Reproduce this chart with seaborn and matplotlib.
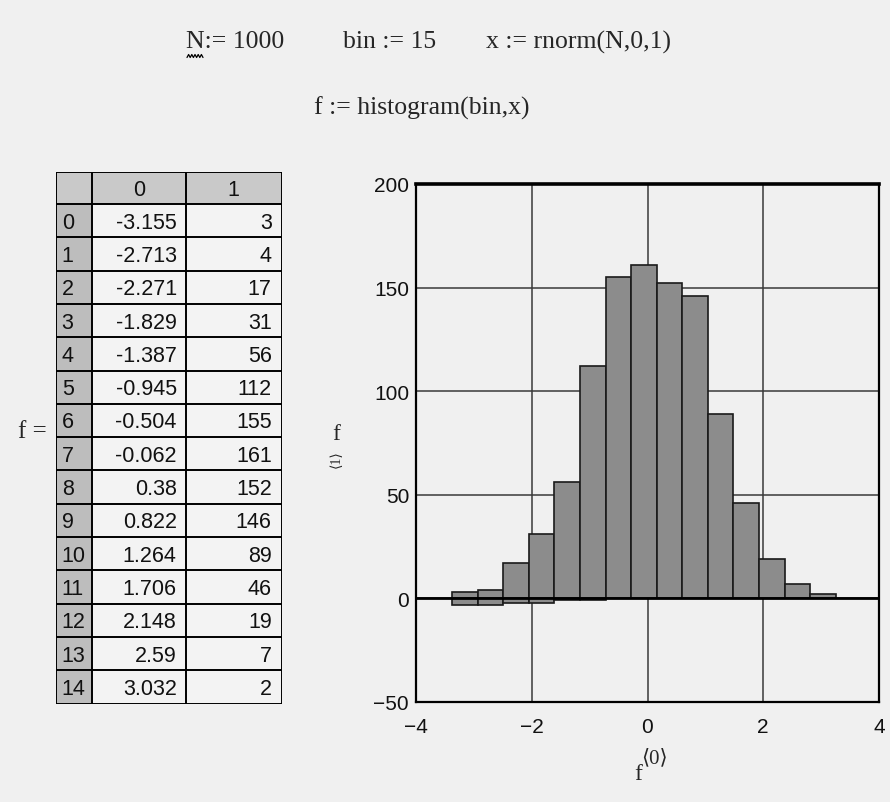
import numpy as np
import pandas as pd
import matplotlib
matplotlib.use("Agg")
import matplotlib.pyplot as plt
from matplotlib.patches import Rectangle
from matplotlib.lines import Line2D
import seaborn as sns

# histogram(15, rnorm(1000, 0, 1)): bin centres and counts
row_index = list(range(15))
bin_centers = [-3.155, -2.713, -2.271, -1.829, -1.387, -0.945, -0.504, -0.062,
               0.38, 0.822, 1.264, 1.706, 2.148, 2.59, 3.032]
bin_counts = [3, 4, 17, 31, 56, 112, 155, 161, 152, 146, 89, 46, 19, 7, 2]
# small drop below the zero line under the left tail bars
bar_floor = [-3, -3, -2, -2, -1, -1, 0, 0, 0, 0, 0, 0, 0, 0, 0]
header_labels = ["0", "1"]
x_ticks = [-4, -2, 0, 2, 4]
y_ticks = [-50, 0, 50, 100, 150, 200]

W, H = 890, 803
BG = "#f0f0f0"
SERIF = ["Liberation Serif", "DejaVu Serif", "DejaVu Sans"]
SANS = ["Liberation Sans", "DejaVu Sans"]

sns.set_theme(style="white")
plt.rcParams["font.family"] = SANS
plt.rcParams["axes.unicode_minus"] = True

fig = plt.figure(figsize=(W / 100, H / 100), dpi=100, facecolor=BG)


def fx(x):
    return x / W


def fy(y):
    return 1 - y / H


# worksheet definitions
fig.text(fx(186), fy(42), "N:= 1000", family=SERIF, fontsize=18.5, va="center", ha="left")
fig.text(fx(343), fy(42), "bin := 15", family=SERIF, fontsize=18.5, va="center", ha="left")
fig.text(fx(486), fy(42), "x := rnorm(N,0,1)", family=SERIF, fontsize=18.5, va="center", ha="left")
fig.text(fx(314), fy(108), "f := histogram(bin,x)", family=SERIF, fontsize=18.5, va="center", ha="left")

# wavy underline under the redefined N
zx = np.linspace(187, 203, 11)
zy = np.where(np.arange(11) % 2 == 0, 58.5, 55.5)
fig.add_artist(Line2D(fx(zx), fy(zy), color="black", lw=0.9, transform=fig.transFigure))

# ---- result table -------------------------------------------------------
fig.text(fx(18), fy(432), "f =", family=SERIF, fontsize=18, va="center", ha="left")

col_edges = [0, 36, 130, 226]
header_h = 32
row_h = 33.3
table_h = header_h + row_h * len(row_index)

ax_t = fig.add_axes([fx(55.7), fy(173 + table_h), fx(226), table_h / H])
ax_t.set_xlim(0, 226)
ax_t.set_ylim(table_h, 0)
ax_t.axis("off")

ax_t.add_patch(Rectangle((0, 0), 226, table_h, facecolor="#f3f3f3", edgecolor="none"))
ax_t.add_patch(Rectangle((0, 0), 226, header_h, facecolor="#c9c9c9", edgecolor="none"))
ax_t.add_patch(Rectangle((0, header_h), 36, table_h - header_h, facecolor="#bdbdbd", edgecolor="none"))

for i, lab in enumerate(header_labels):
    cx = (col_edges[i + 1] + col_edges[i + 2]) / 2
    ax_t.text(cx, header_h / 2 + 1, lab, ha="center", va="center", fontsize=15.5, color="#111111")

for r, (idx, c, n) in enumerate(zip(row_index, bin_centers, bin_counts)):
    cy = header_h + row_h * (r + 0.5) + 1.5
    ax_t.text(6, cy, str(idx), ha="left", va="center", fontsize=15.5, color="#111111")
    ax_t.text(col_edges[2] - 9, cy, f"{c:g}", ha="right", va="center", fontsize=15.5, color="#111111")
    ax_t.text(col_edges[3] - 10, cy, f"{n}", ha="right", va="center", fontsize=15.5, color="#111111")

for xe in col_edges:
    ax_t.plot([xe, xe], [0, table_h], color="black", lw=1.4, solid_capstyle="butt")
for k in range(len(row_index) + 2):
    ye = 0 if k == 0 else header_h + row_h * (k - 1)
    ax_t.plot([0, 226], [ye, ye], color="black", lw=1.4, solid_capstyle="butt")

# ---- histogram plot -----------------------------------------------------
ax = fig.add_axes([fx(416), fy(703), fx(879 - 416), (703 - 185) / H])
ax.set_facecolor(BG)

width = bin_centers[1] - bin_centers[0]
edges = [c - width / 2 for c in bin_centers] + [bin_centers[-1] + width / 2]
df = pd.DataFrame({"center": bin_centers, "count": bin_counts, "floor": bar_floor})

sns.histplot(data=df, x="center", weights="floor", bins=edges, ax=ax,
             color="#8c8c8c", alpha=1, edgecolor="#1a1a1a", linewidth=1.2)
sns.histplot(data=df, x="center", weights="count", bins=edges, ax=ax,
             color="#8c8c8c", alpha=1, edgecolor="#1a1a1a", linewidth=1.2)

ax.set_xlim(-4, 4)
ax.set_ylim(-50, 200)
ax.set_xticks(x_ticks)
ax.set_yticks(y_ticks)
ax.set_xlabel("")
ax.set_ylabel("")
ax.set_axisbelow(True)
ax.grid(True, color="#3a3a3a", lw=1.1)
ax.axhline(0, color="black", lw=2.0, zorder=3)
ax.tick_params(axis="both", length=0, labelsize=15, colors="#111111")
ax.tick_params(axis="x", pad=11)
ax.tick_params(axis="y", pad=5)
for side, sp in ax.spines.items():
    sp.set_visible(True)
    sp.set_color("black")
    sp.set_linewidth(1.6)
ax.spines["top"].set_linewidth(2.6)

# axis labels: f<1> against f<0>
fig.text(fx(336), fy(435), "f", family=SERIF, fontsize=17, ha="center", va="center")
fig.text(fx(336), fy(459), "⟨1⟩", family=SERIF, fontsize=10, ha="center", va="center", rotation=90)
fig.text(fx(638), fy(775), "f", family=SERIF, fontsize=17, ha="center", va="center")
fig.text(fx(654), fy(759), "⟨0⟩", family=SERIF, fontsize=15, ha="center", va="center")

fig.savefig("out.png", dpi=100, facecolor=BG)
